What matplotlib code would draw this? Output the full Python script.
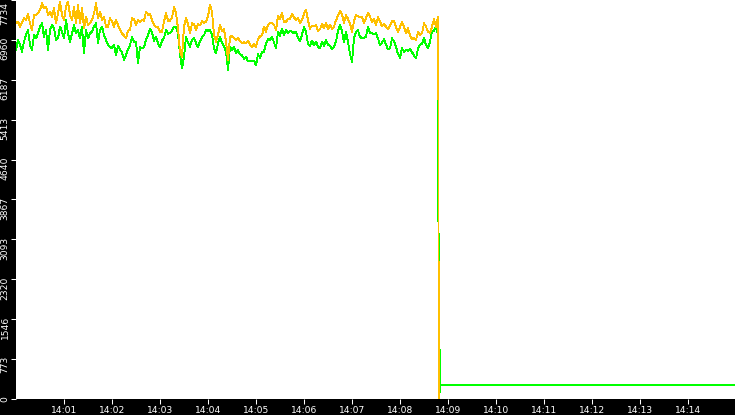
import numpy as np
import matplotlib
matplotlib.use("Agg")
import matplotlib.pyplot as plt
import matplotlib.dates as mdates
import matplotlib.transforms as mtransforms

# ---------------- data ----------------
day = "2024-01-01T"
start_time = np.datetime64(day + "14:00:00.000")
end_time = np.datetime64(day + "14:15:00.000")
sample_ms = 2500

orange_values = [
    7282, 7314, 7217, 7295, 7379, 7346, 7463, 7282, 7153, 7443, 7443, 7476, 7540, 7669, 7572, 7605,
    7443, 7508, 7411, 7572, 7282, 7476, 7702, 7443, 7346, 7605, 7702, 7443, 7346, 7605, 7282, 7637,
    7282, 7572, 7185, 7411, 7250, 7282, 7346, 7476, 7669, 7379, 7508, 7346, 7411, 7217,
    7217, 7379, 7314, 7217, 7346, 7250, 7153, 7088, 7043, 6991, 7140, 7153, 7379, 7366, 7250, 7346,
    7314, 7346, 7333, 7508, 7450, 7463, 7346, 7250, 7217, 7204, 7120, 7120, 7314, 7476, 7333, 7333,
    7398, 7592, 7476, 7185, 6733, 6636, 7217, 7379, 7269, 7088,
    7282, 7262, 7153, 7269, 7243, 7321, 7295, 7314, 7424, 7637, 7508, 7056, 6927, 7056, 7256, 7140,
    7166, 6927, 6571, 7010, 7043, 7004, 6959, 7004, 6939, 6901, 6914, 6894, 6946, 6868, 6830, 6881,
    6830, 6978, 7030, 7049, 7217, 7120, 7256, 7295, 7295, 7256, 7153,
    7424, 7359, 7489, 7301, 7314, 7366, 7366, 7463, 7398, 7346, 7392, 7288, 7346, 7463, 7540, 7346,
    7178, 7237, 7224, 7250, 7133, 7166, 7269, 7191, 7282, 7166, 7256, 7178, 7217, 7346, 7424, 7527,
    7450, 7295, 7443, 7366, 7282, 7120, 7321, 7443, 7417, 7398,
    7398, 7295, 7379, 7489, 7411, 7308, 7359, 7250, 7398, 7321, 7224, 7262, 7217, 7166, 7230, 7327,
    7327, 7217, 7107, 7217, 7308, 7217, 7088, 7185, 7043, 6972, 7004, 6959, 7114, 7062, 7088, 7282,
    7217, 7114, 7101, 7217, 7359, 7217, 7398,
]

green_values = [
    6765, 6959, 6862, 6733, 6927, 7056, 7153, 6862, 6765, 7056, 6991, 7088, 7217, 7282, 7023, 7153,
    6765, 7153, 7250, 7185, 6959, 6991, 7217, 7120, 6991, 7346, 7088, 6927, 7088, 7250, 7088, 7153,
    6991, 7217, 6700, 7153, 6991, 7088, 7120, 7217, 7282, 6894, 7153, 7217, 7056, 6959,
    6862, 6830, 6797, 6862, 6668, 6849, 6765, 6720, 6571, 6668, 6778, 6862, 7010, 6927, 6927, 6507,
    6817, 6797, 6817, 6959, 7056, 7178, 7101, 6946, 7023, 6894, 6817, 6946, 6998, 7153, 7075, 7101,
    7140, 7217, 7217, 7088, 6688, 6410, 6636, 7023, 6907, 6830,
    6959, 7004, 6894, 6817, 6933, 7010, 7049, 7153, 7140, 7153, 7062, 6797, 6700, 6894, 7010, 6914,
    6836, 6733, 6377, 6830, 6772, 6823, 6700, 6759, 6688, 6662, 6597, 6636, 6545, 6545, 6558, 6552,
    6474, 6681, 6616, 6733, 6726, 6894, 6978, 6959, 7023, 6907, 6797,
    7120, 7043, 7178, 7062, 7153, 7095, 7133, 7120, 7088, 7120, 7004, 6939, 7062, 7204, 7120, 6875,
    6849, 6946, 6855, 6927, 6830, 6797, 6920, 6843, 6959, 6868, 6843, 6784, 6830, 6927, 7140, 7243,
    7127, 6920, 7120, 6920, 6688, 6539, 7004, 7120, 7146, 7023,
    6991, 6998, 7023, 7217, 7095, 7095, 7069, 7088, 6991, 6862, 6907, 6972, 6862, 6784, 6797, 6991,
    6927, 6830, 6688, 6610, 6797, 6733, 6765, 6752, 6784, 6726, 6649, 6604, 6797, 6868, 6881, 7004,
    6862, 6797, 6927, 7140, 7140, 7217, 7056,
]

orange_tail_times = ["14:08:48.000", "14:08:48.300"]
orange_tail_values = [7390, 0]
green_tail_times = ["14:08:47.900", "14:08:48.000", "14:08:49.900", "14:08:50.100", "14:15:00.000"]
green_tail_values = [3700, 3560, 140, 271, 271]

y_tick_values = [0, 773, 1546, 2320, 3093, 3867, 4640, 5413, 6187, 6960, 7734]
y_tick_labels = ["0", "773", "1546", "2320", "3093", "3867", "4640", "5413", "6187", "6960", "7734"]
x_tick_minutes = list(range(1, 15))

orange_color = "#FFC000"
green_color = "#00FF00"

# ---------------- build series ----------------
step = np.timedelta64(sample_ms, "ms")
t_main = start_time + np.arange(len(orange_values)) * step
t_orange = np.concatenate([t_main, np.array([np.datetime64(day + s) for s in orange_tail_times])])
v_orange = np.array(orange_values + orange_tail_values, dtype=float)
t_green = np.concatenate([t_main, np.array([np.datetime64(day + s) for s in green_tail_times])])
v_green = np.array(green_values + green_tail_values, dtype=float)

# ---------------- figure ----------------
W, H = 735, 415
fig = plt.figure(figsize=(W / 100, H / 100), dpi=100, facecolor="black")
ax = fig.add_axes([16 / W, 16 / H, 720 / W, 399 / H])
ax.set_facecolor("white")

ax.plot(t_green, v_green, color=green_color, lw=0.65, antialiased=False, zorder=2)
ax.plot(t_orange, v_orange, color=orange_color, lw=0.65, antialiased=False, zorder=3)

ax.set_xlim(start_time, end_time)
ax.set_ylim(y_tick_values[0], y_tick_values[-1])

for s in ax.spines.values():
    s.set_visible(False)

xt = [start_time + np.timedelta64(m, "m") for m in x_tick_minutes]
ax.set_xticks(xt)
ax.xaxis.set_major_formatter(mdates.DateFormatter("%H:%M"))
ax.tick_params(axis="x", colors="white", length=3.6, width=0.75, labelsize=6.6, pad=1.2)

ax.set_yticks(y_tick_values)
ax.tick_params(axis="y", colors="white", length=3.6, width=0.75, labelleft=False)

trans = mtransforms.blended_transform_factory(ax.transAxes, ax.transData)
for i, (v, lab) in enumerate(zip(y_tick_values, y_tick_labels)):
    dy = 3 if i < len(y_tick_values) - 1 else -2
    tr = mtransforms.offset_copy(trans, fig=fig, x=-6.5, y=dy, units="dots")
    ax.text(0, v, lab, transform=tr, rotation=90, ha="right", va="top",
            color="white", fontsize=6.6, clip_on=False)

fig.savefig("out.png", dpi=100, facecolor="black")
